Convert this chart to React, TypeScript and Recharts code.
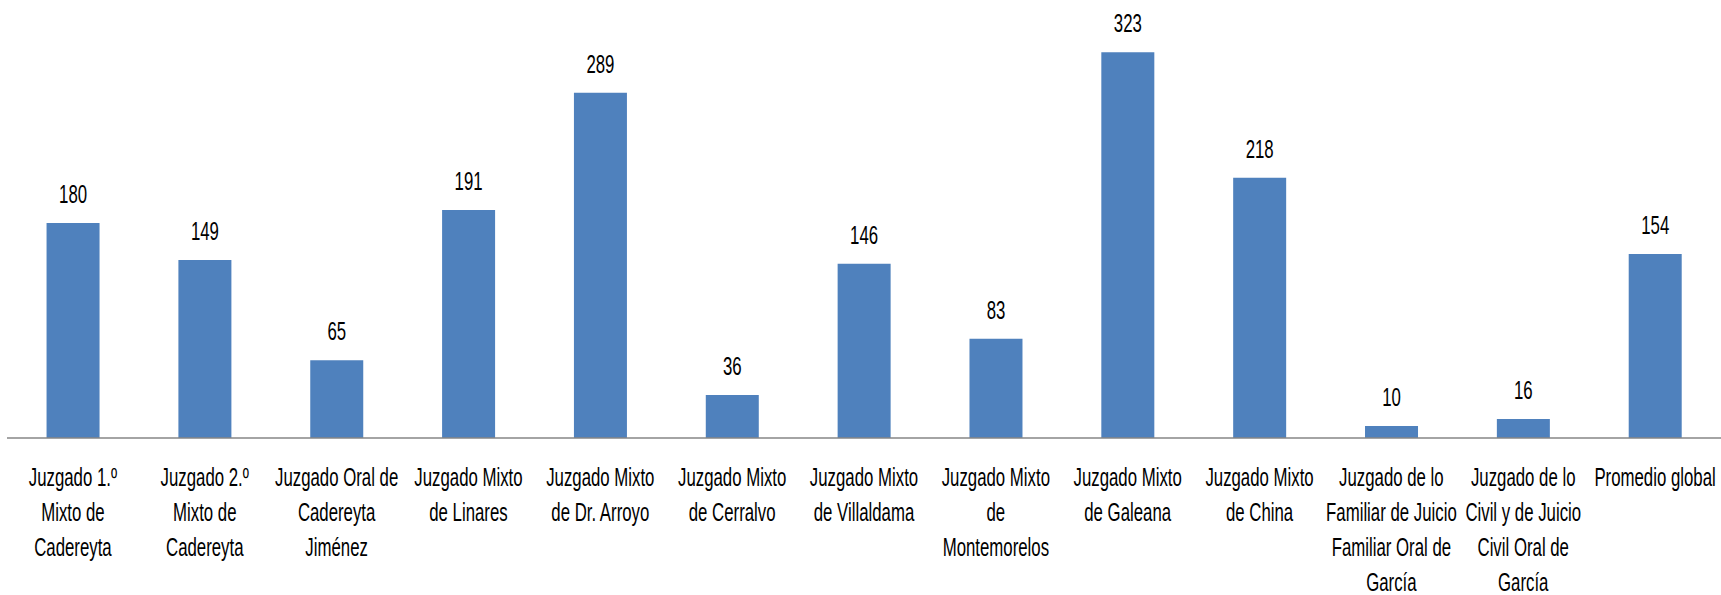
import React from "react";
import { BarChart, Bar, XAxis, YAxis, LabelList } from "recharts";

const categoryLines: string[][] = [
  ["Juzgado 1.º", "Mixto de", "Cadereyta"],
  ["Juzgado 2.º", "Mixto de", "Cadereyta"],
  ["Juzgado Oral de", "Cadereyta", "Jiménez"],
  ["Juzgado Mixto", "de Linares"],
  ["Juzgado Mixto", "de Dr. Arroyo"],
  ["Juzgado Mixto", "de Cerralvo"],
  ["Juzgado Mixto", "de Villaldama"],
  ["Juzgado Mixto", "de", "Montemorelos"],
  ["Juzgado Mixto", "de Galeana"],
  ["Juzgado Mixto", "de China"],
  ["Juzgado de lo", "Familiar de Juicio", "Familiar Oral de", "García"],
  ["Juzgado de lo", "Civil y de Juicio", "Civil Oral de", "García"],
  ["Promedio global"],
];

const values: number[] = [180, 149, 65, 191, 289, 36, 146, 83, 323, 218, 10, 16, 154];

const data = categoryLines.map((lines, i) => ({
  name: lines.join(" "),
  lines,
  value: values[i],
}));

const FONT = "'Liberation Sans', Arial, sans-serif";
const SX = 0.8;
const SY = 1.2;

const CategoryTick = (props: any) => {
  const { x, y, index } = props;
  const lines = categoryLines[index] || [];
  return (
    <g transform={`translate(${x},${y}) scale(${SX},${SY})`}>
      <text textAnchor="middle" fontFamily={FONT} fontSize={21} fill="#000">
        {lines.map((l, i) => (
          <tspan key={i} x={0} y={(40 + i * 35) / SY}>
            {l}
          </tspan>
        ))}
      </text>
    </g>
  );
};

const ValueLabel = (props: any) => {
  const { x, y, width, value } = props;
  const cx = x + width / 2;
  const by = y - 20;
  return (
    <g transform={`translate(${cx},${by}) scale(${SX},${SY})`}>
      <text x={0} y={0} textAnchor="middle" fontFamily={FONT} fontSize={21} fill="#000">
        {value}
      </text>
    </g>
  );
};

export default function App() {
  return (
    <div style={{ position: "absolute", left: 0, top: 0, background: "#fff" }}>
      <BarChart
        width={1721}
        height={595}
        data={data}
        margin={{ top: 20, right: 0, left: 7, bottom: 0 }}
        barCategoryGap="30%"
      >
        <XAxis
          dataKey="name"
          interval={0}
          height={157}
          tickLine={false}
          axisLine={{ stroke: "#868686", strokeWidth: 1.5 }}
          tick={<CategoryTick />}
        />
        <YAxis hide domain={[0, 350]} />
        <Bar dataKey="value" fill="#4F81BD" isAnimationActive={false}>
          <LabelList dataKey="value" content={<ValueLabel />} />
        </Bar>
      </BarChart>
    </div>
  );
}
